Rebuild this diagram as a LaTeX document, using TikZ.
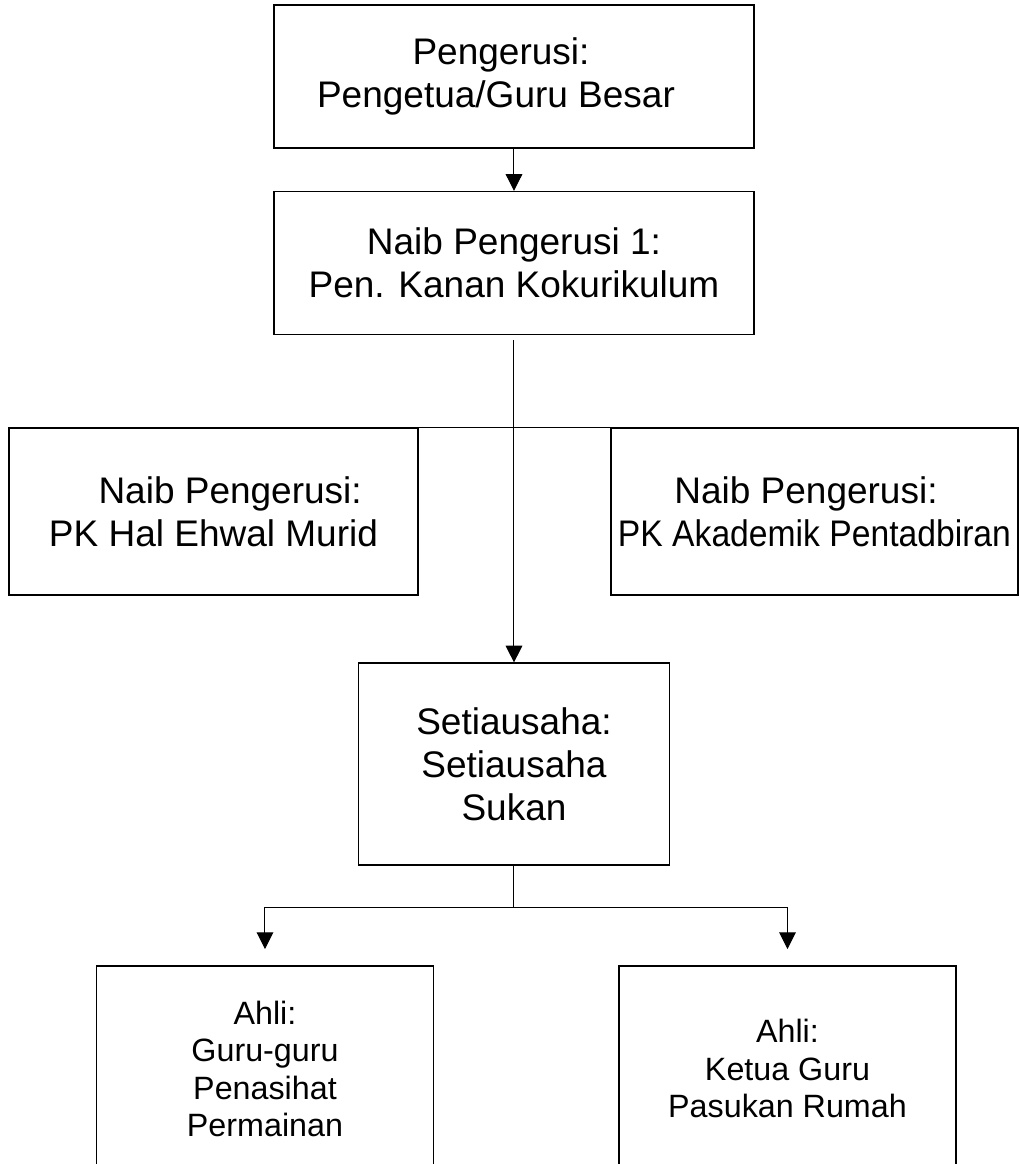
\documentclass[tikz,border=0pt]{standalone}
\usepackage{fontspec}
\setmainfont{Liberation Sans}
\usetikzlibrary{positioning, arrows.meta}

\begin{document}
\begin{tikzpicture}[
    node distance=31.5pt,
    role/.style={rectangle, draw, line width=1.2pt, align=center, inner sep=0pt, font=\fontsize{27.75}{32.25}\selectfont},
    member/.style={role, minimum width=253pt, minimum height=154.5pt, font=\fontsize{24.2}{28.1}\selectfont},
    link/.style={line width=0.75pt},
    flow/.style={link, -{Triangle[width=12.5pt, length=12.5pt]}},
]
    \useasboundingbox (-385.5pt,57.375pt) rectangle (378.75pt,-815.625pt);

    \node[role, minimum width=360pt, minimum height=107.25pt] (chair) {Pengerusi:\hspace*{19.5pt}\\ Pengetua/Guru Besar\hspace*{27pt}};
    \node[role, minimum width=360pt, minimum height=107.25pt, below=of chair] (naib1) {Naib Pengerusi 1:\\ Pen. Kanan Kokurikulum};
    \node[role, minimum width=306.75pt, minimum height=125.25pt, below=69pt of naib1, xshift=-225.375pt] (hem) {\hspace*{25pt}Naib Pengerusi:\\ PK Hal Ehwal Murid};
    \node[role, minimum width=305.25pt, minimum height=125.25pt, below=69pt of naib1, xshift=225.375pt] (akad) {Naib Pengerusi:\hspace*{12.75pt}\\ \scalebox{0.91}[1]{PK Akademik Pentadbiran}};
    \node[role, minimum width=233.25pt, minimum height=151.5pt, below=245.25pt of naib1] (sec) {Setiausaha:\\ Setiausaha\\ Sukan};
    \node[member, below=74.25pt of sec, xshift=-186.75pt] (guru) {Ahli:\\ Guru-guru\\ Penasihat\\ Permainan};
    \node[member, below=74.25pt of sec, xshift=205.125pt] (rumah) {Ahli:\\ Ketua Guru\\ Pasukan Rumah};

    \coordinate (barl) at ([xshift=-22.5pt]hem.north east);
    \coordinate (barr) at ([xshift=40.5pt]akad.north west);
    \coordinate (split) at ([yshift=-30.75pt]sec.south);

    \draw[link] (barl) -- (barr);
    \draw[flow] (chair) -- (naib1);
    \draw[flow, shorten <=3.75pt] (naib1) -- (sec);
    \draw[link] (sec) -- (split);
    \draw[flow, shorten >=12pt] (split) -| (guru);
    \draw[flow, shorten >=12pt] (split) -| (rumah);
\end{tikzpicture}
\end{document}
